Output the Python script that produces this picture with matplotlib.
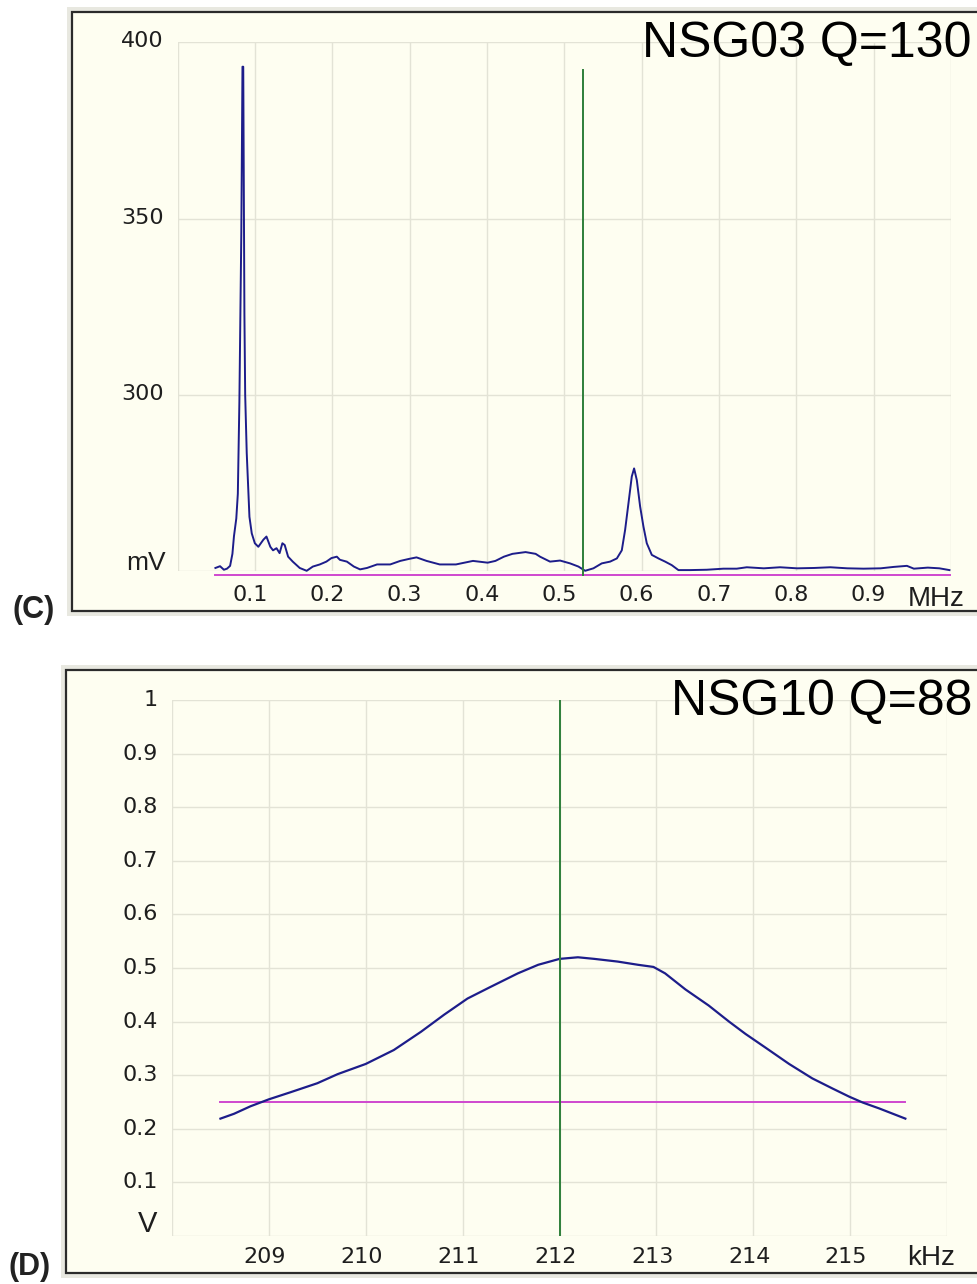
import matplotlib
matplotlib.use('Agg')
import matplotlib.pyplot as plt
from matplotlib.patches import Rectangle

W, H = 977, 1284

# panel (C): wide sweep, NSG03
c_freq = [0.049, 0.055, 0.060, 0.064, 0.068, 0.071, 0.073, 0.076, 0.078, 0.080,
          0.0825, 0.0840, 0.0850, 0.0865, 0.0875, 0.0895, 0.0930, 0.0960, 0.1000, 0.1045,
          0.111, 0.115, 0.120, 0.1235, 0.128, 0.132, 0.1356, 0.1386, 0.143, 0.149,
          0.158, 0.167, 0.175, 0.184, 0.1925, 0.199, 0.206, 0.210, 0.219, 0.228,
          0.236, 0.245, 0.258, 0.275, 0.288, 0.300, 0.309, 0.322, 0.339, 0.360,
          0.382, 0.401, 0.411, 0.422, 0.433, 0.450, 0.463, 0.4687, 0.4816, 0.4946,
          0.5075, 0.5183, 0.527, 0.5377, 0.5485, 0.5593, 0.568, 0.5744, 0.5787, 0.583,
          0.5873, 0.5903, 0.5938, 0.5981, 0.6024, 0.6067, 0.6132, 0.6218, 0.6304, 0.639,
          0.6476, 0.6627, 0.6843, 0.7058, 0.723, 0.736, 0.758, 0.779, 0.801, 0.823,
          0.844, 0.866, 0.887, 0.909, 0.926, 0.943, 0.952, 0.970, 0.985, 0.998]
c_mv = [251.0, 251.5, 250.5, 250.8, 251.6, 255.0, 260.0, 265.0, 272.0, 298.0,
        346.0, 393.0, 393.0, 323.0, 300.0, 283.6, 265.5, 260.8, 258.0, 257.0,
        259.0, 259.9, 257.0, 256.0, 256.6, 255.2, 258.0, 257.5, 254.2, 252.8,
        251.0, 250.2, 251.4, 252.0, 252.8, 253.8, 254.2, 253.3, 252.8, 251.4,
        250.6, 251.0, 252.0, 252.0, 253.0, 253.6, 254.0, 253.0, 252.0, 252.0,
        253.0, 252.5, 253.0, 254.2, 255.0, 255.5, 255.0, 254.2, 252.8, 253.1,
        252.3, 251.4, 250.2, 250.9, 252.3, 252.8, 253.7, 256.0, 261.8, 269.3,
        276.9, 279.2, 275.9, 268.4, 262.7, 258.0, 254.7, 253.7, 252.8, 251.8,
        250.4, 250.4, 250.5, 250.8, 250.8, 251.2, 250.9, 251.2, 250.9, 251.0,
        251.2, 250.9, 250.8, 250.9, 251.3, 251.6, 250.8, 251.1, 250.9, 250.4]
c_marker_freq = 0.524
c_marker_top = 392.0
c_ref_level = 249.0
c_ref_span = [0.049, 0.999]
c_xgrid = [0.0, 0.1, 0.2, 0.3, 0.4, 0.5, 0.6, 0.7, 0.8, 0.9, 1.0]
c_xticks = [0.1, 0.2, 0.3, 0.4, 0.5, 0.6, 0.7, 0.8, 0.9]
c_xlabels = ['0.1', '0.2', '0.3', '0.4', '0.5', '0.6', '0.7', '0.8', '0.9']
c_yticks = [300, 350, 400]
c_ylabels = ['300', '350', '400']

# panel (D): narrow sweep, NSG10
d_freq = [208.50, 208.64, 208.81, 209.00, 209.22, 209.50, 209.71, 210.00, 210.29, 210.57,
          210.81, 211.05, 211.28, 211.57, 211.78, 212.00, 212.19, 212.36, 212.60, 212.81,
          212.97, 213.09, 213.30, 213.54, 213.75, 213.92, 214.13, 214.37, 214.61, 214.82,
          214.99, 215.13, 215.30, 215.57]
d_volt = [0.219, 0.228, 0.242, 0.255, 0.268, 0.285, 0.302, 0.321, 0.347, 0.381,
          0.413, 0.443, 0.464, 0.490, 0.506, 0.517, 0.520, 0.517, 0.512, 0.506,
          0.502, 0.490, 0.460, 0.430, 0.400, 0.377, 0.351, 0.321, 0.294, 0.275,
          0.260, 0.249, 0.238, 0.219]
d_marker_freq = 212.0
d_ref_level = 0.25
d_ref_span = [208.5, 215.57]
d_xgrid = [208, 209, 210, 211, 212, 213, 214, 215, 216]
d_xticks = [209, 210, 211, 212, 213, 214, 215]
d_xlabels = ['209', '210', '211', '212', '213', '214', '215']
d_yticks = [0.1, 0.2, 0.3, 0.4, 0.5, 0.6, 0.7, 0.8, 0.9, 1.0]
d_ylabels = ['0.1', '0.2', '0.3', '0.4', '0.5', '0.6', '0.7', '0.8', '0.9', '1']

CREAM = '#fefef1'
GRID = '#e3e3d6'
TRACE = '#1d1d8a'
MARK = '#2e7f3a'
REF = '#cf48cf'
TXT = '#1e1e1e'
ARIAL = 'Liberation Sans'


def rect(px, py, pw, ph):
    return (px / W, 1 - (py + ph) / H), pw / W, ph / H


def frame(fig, x0, y0, x1, y1):
    xy, w, h = rect(x0 - 5, y0 - 5, x1 - x0 + 10, y1 - y0 + 10)
    fig.add_artist(Rectangle(xy, w, h, transform=fig.transFigure,
                             facecolor='#e8e8e0', edgecolor='none', zorder=-20))
    xy, w, h = rect(x0, y0, x1 - x0, y1 - y0)
    fig.add_artist(Rectangle(xy, w, h, transform=fig.transFigure,
                             facecolor=CREAM, edgecolor='#2b2b2b', linewidth=1.6, zorder=-10))


def panel(fig, box, xlim, ylim, xgrid, ygrid):
    ax = fig.add_axes(box)
    ax.set_facecolor('none')
    ax.set_xlim(*xlim)
    ax.set_ylim(*ylim)
    ax.set_xticks(xgrid)
    ax.set_yticks(ygrid)
    ax.tick_params(length=0, labelbottom=False, labelleft=False)
    ax.grid(True, color=GRID, linewidth=1.0)
    ax.set_axisbelow(True)
    for s in ax.spines.values():
        s.set_visible(False)
    return ax


def tick_text(ax, ticks, labels, axis, dx, dy):
    for t, s in zip(ticks, labels):
        if axis == 'x':
            xy, tr, ha = (t, 0), ax.get_xaxis_transform(), 'center'
        else:
            xy, tr, ha = (0, t), ax.get_yaxis_transform(), 'right'
        ax.annotate(s, xy, xycoords=tr, xytext=(dx, dy), textcoords='offset pixels',
                    ha=ha, va='baseline', fontsize=16, family='DejaVu Sans', color=TXT)


fig = plt.figure(figsize=(W / 100, H / 100), dpi=100)
fig.patch.set_facecolor('white')

frame(fig, 72, 12, 1000, 611)
frame(fig, 66, 670, 1000, 1273)

# (C)
ax = panel(fig, [177.5 / W, 1 - 571.5 / H, 773.5 / W, 529.5 / H],
           (0.0, 1.0), (250, 400), c_xgrid, [250] + c_yticks)
ax.plot(c_ref_span, [c_ref_level, c_ref_level], color=REF, lw=1.4, zorder=3, clip_on=False)
ax.plot(c_freq, c_mv, color=TRACE, lw=1.4, zorder=4, clip_on=False)
ax.plot([c_marker_freq, c_marker_freq], [c_ref_level, c_marker_top], color=MARK, lw=1.4,
        zorder=5, clip_on=False)
tick_text(ax, c_xticks, c_xlabels, 'x', -5, -30)
tick_text(ax, c_yticks, c_ylabels, 'y', -14, -5)
ax.annotate('mV', (0, 250), xycoords=ax.get_yaxis_transform(), xytext=(-12, 1),
            textcoords='offset pixels', ha='right', va='baseline',
            fontsize=19, family=ARIAL, color=TXT)
ax.annotate('MHz', (1, 0), xycoords='axes fraction', xytext=(-43, -35),
            textcoords='offset pixels', ha='left', va='baseline',
            fontsize=20, family=ARIAL, color=TXT)
ax.annotate('NSG03 Q=130', (1, 1), xycoords='axes fraction', xytext=(21, -15),
            textcoords='offset pixels', ha='right', va='baseline',
            fontsize=36, family=ARIAL, color='black')

# (D)
ax = panel(fig, [172 / W, 1 - 1236 / H, 775 / W, 536 / H],
           (208, 216), (0.0, 1.0), d_xgrid, [0.0] + d_yticks)
ax.plot(d_ref_span, [d_ref_level, d_ref_level], color=REF, lw=1.4, zorder=3)
ax.plot(d_freq, d_volt, color=TRACE, lw=1.6, zorder=4)
ax.plot([d_marker_freq, d_marker_freq], [0.0, 1.0], color=MARK, lw=1.4, zorder=5)
tick_text(ax, d_xticks, d_xlabels, 'x', -4, -27)
tick_text(ax, d_yticks, d_ylabels, 'y', -14, -6)
ax.annotate('V', (0, 0), xycoords=ax.get_yaxis_transform(), xytext=(-15, 4),
            textcoords='offset pixels', ha='right', va='baseline',
            fontsize=21, family=ARIAL, color=TXT)
ax.annotate('kHz', (1, 0), xycoords='axes fraction', xytext=(-40, -29),
            textcoords='offset pixels', ha='left', va='baseline',
            fontsize=20, family=ARIAL, color=TXT)
ax.annotate('NSG10 Q=88', (1, 1), xycoords='axes fraction', xytext=(25, -15),
            textcoords='offset pixels', ha='right', va='baseline',
            fontsize=36, family=ARIAL, color='black')

fig.text(12 / W, 1 - 610 / H, '(C)', ha='left', va='center', fontsize=22,
         fontweight='bold', family=ARIAL, color='#222222')
fig.text(8 / W, 1 - 1267 / H, '(D)', ha='left', va='center', fontsize=22,
         fontweight='bold', family=ARIAL, color='#222222')

fig.savefig('out.png', dpi=100, facecolor='white')
